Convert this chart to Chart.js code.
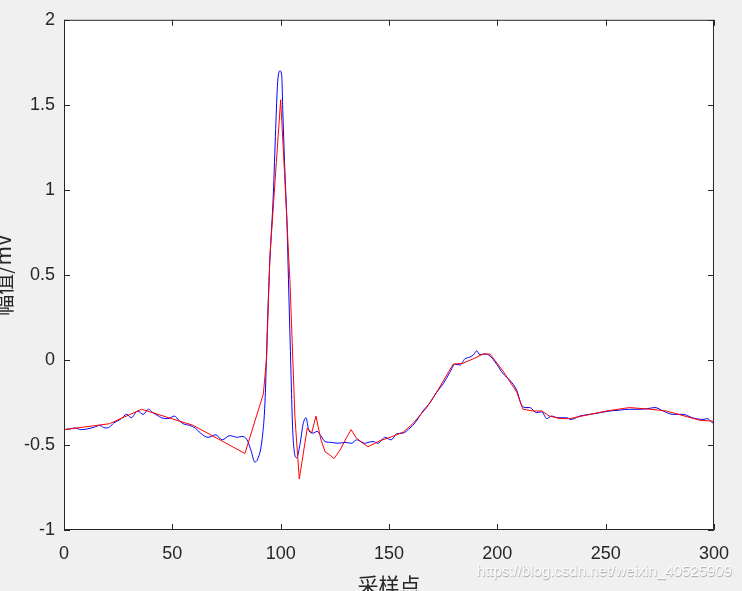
<!DOCTYPE html>
<html>
<head>
<meta charset="utf-8">
<script src="https://cdn.jsdelivr.net/npm/chart.js@4/dist/chart.umd.min.js"></script>
<style>
  html, body { margin: 0; padding: 0; background: #f0f0f0; }
  canvas { display: block; }
</style>
</head>
<body>
<canvas id="ecgChart" width="742" height="591"></canvas>
<script>
// original signal (blue)
const blueX = [0, 3, 5, 8, 11, 14, 16.5, 19, 21, 23, 26, 29, 31, 34, 36.5, 39, 41, 43, 45, 48,
    51, 53, 55, 58, 60.5, 63, 66.5, 70, 73, 76.5, 80, 82, 84.5, 86.5, 88, 89.5, 91.4, 92.8, 94, 95,
    96.6, 97.7, 98.6, 99.7, 100.5, 101, 101.8, 103, 103.3, 104.5, 105.7, 107.4, 109, 110.4, 111.7, 113, 115, 116.8, 118.5, 120.5,
    123.5, 126.5, 129.7, 132.8, 135, 137, 139, 140.3, 142.6, 145, 147, 148, 151, 153.5, 156.5, 159.7, 162, 165.7, 169, 172,
    175, 178, 180.5, 182.8, 185, 187.4, 189, 190.5, 192, 194.3, 196.6, 199.7, 202.6, 205.8, 209, 211, 212.8, 215, 218, 220.5,
    222.8, 225, 228, 232, 234, 238, 242.8, 247.4, 252, 256.6, 261, 265.8, 269, 272.8, 276.5, 281, 285.7, 290, 294.9, 297, 299.5, 300];
const blueY = [-0.41, -0.405, -0.4, -0.41, -0.405, -0.395, -0.385, -0.4, -0.395, -0.37, -0.35, -0.32, -0.34, -0.3, -0.32, -0.29, -0.31, -0.325, -0.34, -0.345,
    -0.33, -0.355, -0.375, -0.385, -0.4, -0.43, -0.455, -0.44, -0.47, -0.445, -0.455, -0.45, -0.47, -0.54, -0.6, -0.58, -0.47, -0.24, 0.25, 0.58,
    0.97, 1.36, 1.63, 1.7, 1.67, 1.46, 1.16, 0.77, 0.62, 0.05, -0.45, -0.575, -0.49, -0.375, -0.34, -0.415, -0.43, -0.42, -0.445, -0.48,
    -0.485, -0.49, -0.485, -0.49, -0.47, -0.48, -0.49, -0.485, -0.48, -0.49, -0.465, -0.455, -0.47, -0.435, -0.43, -0.4, -0.37, -0.3, -0.25, -0.19,
    -0.14, -0.075, -0.025, -0.03, 0.006, 0.017, 0.03, 0.053, 0.03, 0.035, 0.023, -0.025, -0.08, -0.12, -0.18, -0.26, -0.28, -0.28, -0.31, -0.305,
    -0.345, -0.33, -0.34, -0.34, -0.35, -0.33, -0.32, -0.31, -0.3, -0.295, -0.29, -0.29, -0.287, -0.28, -0.3, -0.32, -0.32, -0.34, -0.35, -0.345, -0.37, -0.37];

// reconstructed signal (red)
const redX = [0, 21, 35.8, 59.7, 83.5, 92, 93.5, 95, 98, 100, 101.8, 103.8, 104.3, 106.6, 108.6, 109.7, 112.3, 114.3, 116.3, 118.5,
    120.5, 122.8, 124.6, 127.4, 130.5, 132.5, 135, 138, 140.3, 143.5, 145.8, 150.5, 156.5, 161, 167.4, 172, 179.6, 184, 188.8, 193.4,
    196.6, 202.6, 209, 211.8, 216.5, 220.5, 224, 229, 233.5, 242.8, 250.5, 261, 270.5, 278, 293.5, 300];
const redY = [-0.41, -0.375, -0.29, -0.385, -0.55, -0.2, 0.01, 0.6, 1.16, 1.53, 1.1, 0.58, 0.46, -0.34, -0.7, -0.61, -0.4, -0.43, -0.33, -0.465,
    -0.54, -0.56, -0.58, -0.53, -0.455, -0.41, -0.46, -0.49, -0.51, -0.49, -0.475, -0.455, -0.425, -0.375, -0.28, -0.19, -0.025, -0.02, 0.006, 0.035,
    0.035, -0.065, -0.19, -0.29, -0.3, -0.3, -0.33, -0.345, -0.345, -0.32, -0.3, -0.28, -0.29, -0.3, -0.355, -0.36];

const xTicks = [0, 50, 100, 150, 200, 250, 300];
const xTickLabels = ["0", "50", "100", "150", "200", "250", "300"];
const yTicks = [-1, -0.5, 0, 0.5, 1, 1.5, 2];
const yTickLabels = ["-1", "-0.5", "0", "0.5", "1", "1.5", "2"];

const xTitle = "采样点";
const yTitle = "幅值/mV";
const watermark = "https://blog.csdn.net/weixin_40525909";

const axisColor = "#262626";

function toPoints(xs, ys) {
    return xs.map((x, i) => ({ x: x, y: ys[i] }));
}

// gray figure + white axes background
const backgroundPlugin = {
    id: "background",
    beforeDraw(chart) {
        const ctx = chart.ctx;
        const a = chart.chartArea;
        ctx.save();
        ctx.fillStyle = "#f0f0f0";
        ctx.fillRect(0, 0, chart.width, chart.height);
        ctx.fillStyle = "#ffffff";
        ctx.fillRect(a.left, a.top, a.right - a.left, a.bottom - a.top);
        ctx.restore();
    }
};

// matlab style box with inward ticks, titles, watermark
const boxPlugin = {
    id: "box",
    afterDraw(chart) {
        const ctx = chart.ctx;
        const a = chart.chartArea;
        const xs = chart.scales.x;
        const ys = chart.scales.y;
        const len = 6;
        ctx.save();
        ctx.strokeStyle = axisColor;
        ctx.lineWidth = 1;
        ctx.beginPath();
        ctx.rect(a.left + 0.5, a.top + 0.5, a.right - a.left - 1, a.bottom - a.top - 1);
        xTicks.forEach(v => {
            const px = Math.round(xs.getPixelForValue(v)) + 0.5;
            ctx.moveTo(px, a.bottom);
            ctx.lineTo(px, a.bottom - len);
            ctx.moveTo(px, a.top);
            ctx.lineTo(px, a.top + len);
        });
        yTicks.forEach(v => {
            const py = Math.round(ys.getPixelForValue(v)) + 0.5;
            ctx.moveTo(a.left, py);
            ctx.lineTo(a.left + len, py);
            ctx.moveTo(a.right, py);
            ctx.lineTo(a.right - len, py);
        });
        ctx.stroke();

        ctx.fillStyle = axisColor;
        ctx.font = '21px "Noto Sans CJK SC", sans-serif';
        ctx.textAlign = "center";
        ctx.textBaseline = "middle";
        ctx.fillText(xTitle, (a.left + a.right) / 2, 585);

        ctx.save();
        ctx.translate(3, (a.top + a.bottom) / 2);
        ctx.rotate(-Math.PI / 2);
        ctx.fillText(yTitle, 0, 0);
        ctx.restore();

        ctx.font = '15px "Liberation Sans", Arial, sans-serif';
        ctx.textAlign = "right";
        ctx.shadowColor = "rgba(0,0,0,0.35)";
        ctx.shadowBlur = 1;
        ctx.shadowOffsetX = 0.5;
        ctx.shadowOffsetY = 0.5;
        ctx.fillStyle = "rgba(255,255,255,0.95)";
        ctx.fillText(watermark, 732, 572);
        ctx.restore();
    }
};

const ctx = document.getElementById("ecgChart");

new Chart(ctx, {
    type: "line",
    data: {
        datasets: [{
            label: "red",
            data: toPoints(redX, redY),
            borderColor: "#ff0000",
            borderWidth: 1,
            pointRadius: 0,
            tension: 0,
            order: 0
        }, {
            label: "blue",
            data: toPoints(blueX, blueY),
            borderColor: "#0000ff",
            borderWidth: 1,
            pointRadius: 0,
            cubicInterpolationMode: "monotone",
            order: 1
        }]
    },
    options: {
        responsive: false,
        animation: false,
        layout: {
            padding: { top: 17, right: 28, left: 0, bottom: 0 }
        },
        plugins: {
            legend: { display: false },
            tooltip: { enabled: false }
        },
        scales: {
            x: {
                type: "linear",
                min: 0,
                max: 300,
                afterFit(scale) { scale.height = 61; },
                afterBuildTicks(scale) { scale.ticks = xTicks.map(v => ({ value: v })); },
                grid: { display: false, drawTicks: false },
                border: { display: false },
                ticks: {
                    padding: 13,
                    color: axisColor,
                    font: { family: "'Liberation Sans', Arial, sans-serif", size: 18 },
                    maxRotation: 0,
                    callback: (v, i) => xTickLabels[i]
                }
            },
            y: {
                type: "linear",
                min: -1,
                max: 2,
                afterFit(scale) { scale.width = 64; },
                afterBuildTicks(scale) { scale.ticks = yTicks.map(v => ({ value: v })); },
                grid: { display: false, drawTicks: false },
                border: { display: false },
                ticks: {
                    padding: 9,
                    color: axisColor,
                    font: { family: "'Liberation Sans', Arial, sans-serif", size: 18 },
                    callback: (v, i) => yTickLabels[i]
                }
            }
        }
    },
    plugins: [backgroundPlugin, boxPlugin]
});
</script>
</body>
</html>
